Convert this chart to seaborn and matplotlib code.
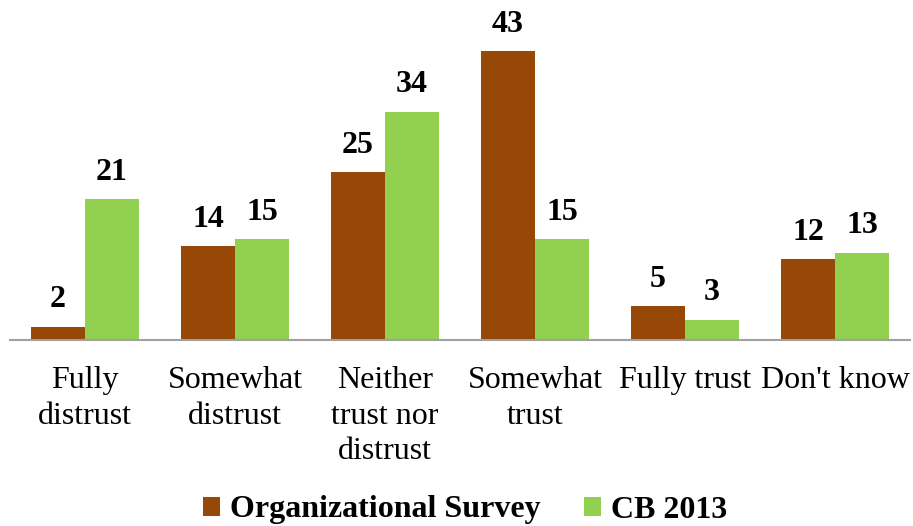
import matplotlib
matplotlib.use("Agg")
import matplotlib.pyplot as plt
import seaborn as sns
import pandas as pd

categories = ["Fully\ndistrust", "Somewhat\ndistrust", "Neither\ntrust nor\ndistrust",
              "Somewhat\ntrust", "Fully trust", "Don't know"]
series_names = ["Organizational Survey", "CB 2013"]
org_survey = [2, 14, 25, 43, 5, 12]
cb_2013 = [21, 15, 34, 15, 3, 13]
colors = ["#974706", "#92D050"]

df = pd.DataFrame({
    "category": categories * 2,
    "series": [series_names[0]] * len(categories) + [series_names[1]] * len(categories),
    "value": org_survey + cb_2013,
})

sns.set_theme(style="white")
plt.rcParams["font.family"] = ["Liberation Serif", "DejaVu Serif"]
plt.rcParams["text.color"] = "black"
plt.rcParams["xtick.color"] = "black"

fig = plt.figure(figsize=(9.13, 5.26), dpi=100)
ax = fig.add_axes([10 / 913, 1 - 340 / 526, 900 / 913, 302 / 526])

sns.barplot(data=df, x="category", y="value", hue="series", order=categories,
            hue_order=series_names, palette=colors, width=0.72, gap=0,
            saturation=1, edgecolor="none", linewidth=0, ax=ax)

for container in ax.containers:
    ax.bar_label(container, fmt="%d", padding=9, fontsize=23, fontweight="bold",
                 color="black")

ax.set_xlim(-0.5, 5.5)
ax.set_ylim(0, 45)
ax.set_xlabel("")
ax.set_ylabel("")
ax.set_yticks([])
ax.tick_params(axis="x", length=0, pad=19, labelsize=23, labelcolor="black")
for lbl in ax.get_xticklabels():
    lbl.set_linespacing(1.28)
    lbl.set_verticalalignment("top")

for side in ["top", "right", "left"]:
    ax.spines[side].set_visible(False)
ax.spines["bottom"].set_color("#a0a0a0")
ax.spines["bottom"].set_linewidth(1.5)

handles, labels = ax.get_legend_handles_labels()
ax.legend_.remove()
fig.legend(handles, labels, loc="center", bbox_to_anchor=(465 / 913, 1 - 510 / 526),
           ncol=2, frameon=False, handlelength=0.55, handleheight=0.55,
           handletextpad=0.3, columnspacing=1.35, labelcolor="black",
           prop={"size": 23, "weight": "bold", "family": ["Liberation Serif"]})

fig.savefig("out.png", dpi=100)
